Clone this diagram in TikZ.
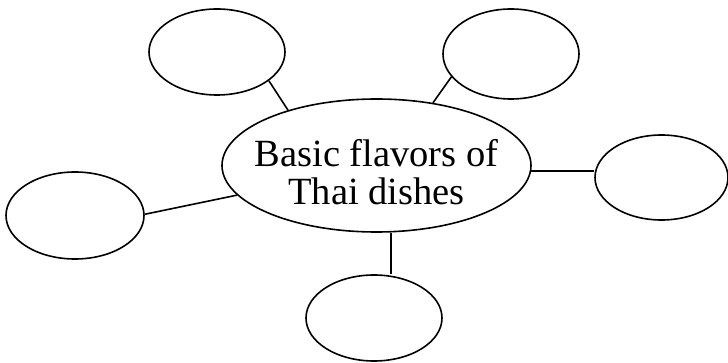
\documentclass[tikz,border=0pt]{standalone}
\usepackage{fontspec}
\setmainfont{Liberation Serif}
\usetikzlibrary{shapes.geometric}
\begin{document}
\begin{tikzpicture}[x=1pt,y=-1pt,
  bubble/.style={draw=black, line width=1.6pt, ellipse, inner sep=0pt},
  sat/.style={bubble, minimum width=136pt, minimum height=86pt},
  link/.style={draw=black, line width=1.6pt}]
\useasboundingbox (0,0) rectangle (728,363);
\node[bubble, minimum width=309pt, minimum height=133pt] (c) at (376.5,165.5) {};
\node[align=center, inner sep=0pt, font=\fontsize{38.5}{38}\selectfont] (ct) at (376.5,172) {Basic flavors of\\Thai dishes};
\node[sat] (tl) at (217,52) {};
\node[sat, minimum height=90pt] (tr) at (511,54) {};
\node[sat, minimum width=133pt, minimum height=85pt] (r) at (661.5,177.5) {};
\node[sat, minimum width=138pt, minimum height=87pt] (l) at (75,215.5) {};
\node[sat] (b) at (374,318) {};
\draw[link] (c.148.2) -- (tl.331);
\draw[link] (c.48.8) -- (tr.201.8);
\draw[link] (c.358.4) -- (c.358.4 -| r.west);
\draw[link] (c.282.1) -- (c.282.1 |- b.north);
\draw[link] (c.192.7) -- (l.1.2);
\end{tikzpicture}
\end{document}
